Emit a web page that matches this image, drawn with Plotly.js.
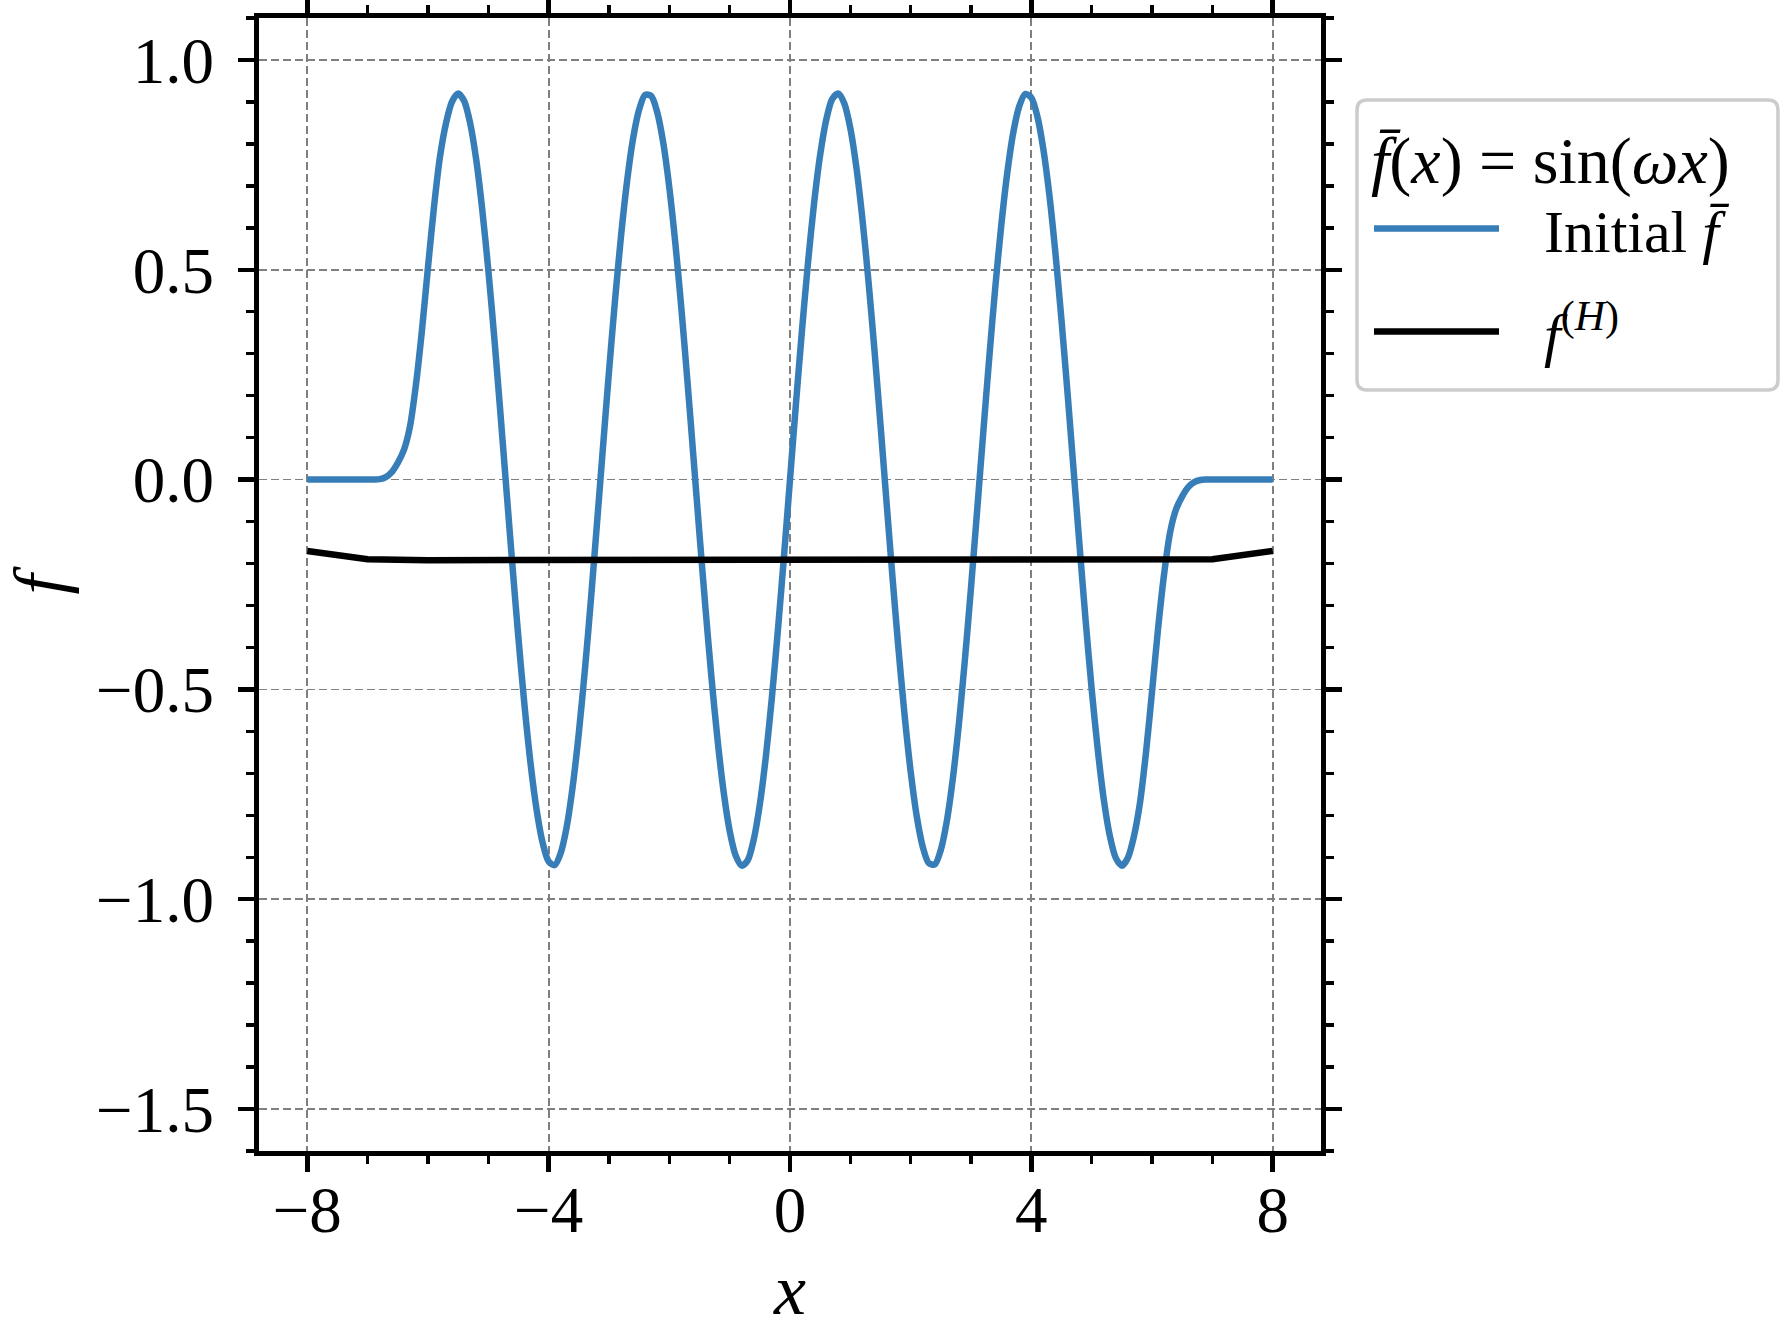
<!DOCTYPE html>
<html>
<head>
<meta charset="utf-8">
<script src="https://cdn.plot.ly/plotly-3.0.1.min.js"></script>
<style>
  html, body { margin: 0; padding: 0; background: #fff; }
  #chart { width: 1781px; height: 1330px; }
</style>
</head>
<body>
<div id="chart"></div>
<script>
// Values
const xInitial = [
  -8.0, -7.9, -7.8, -7.7, -7.6, -7.5, -7.4, -7.3, -7.2, -7.1, -7.0,
  -6.9, -6.8, -6.7, -6.6, -6.5, -6.4, -6.3, -6.2, -6.1, -6.0,
  -5.9, -5.8, -5.7, -5.6, -5.5, -5.4, -5.3, -5.2, -5.1, -5.0,
  -4.9, -4.8, -4.7, -4.6, -4.5, -4.4, -4.3, -4.2, -4.1, -4.0,
  -3.9, -3.8, -3.7, -3.6, -3.5, -3.4, -3.3, -3.2, -3.1, -3.0,
  -2.9, -2.8, -2.7, -2.6, -2.5, -2.4, -2.3, -2.2, -2.1, -2.0,
  -1.9, -1.8, -1.7, -1.6, -1.5, -1.4, -1.3, -1.2, -1.1, -1.0,
  -0.9, -0.8, -0.7, -0.6, -0.5, -0.4, -0.3, -0.2, -0.1,
  0.0, 0.1, 0.2, 0.3, 0.4, 0.5, 0.6, 0.7, 0.8, 0.9,
  1.0, 1.1, 1.2, 1.3, 1.4, 1.5, 1.6, 1.7, 1.8, 1.9,
  2.0, 2.1, 2.2, 2.3, 2.4, 2.5, 2.6, 2.7, 2.8, 2.9,
  3.0, 3.1, 3.2, 3.3, 3.4, 3.5, 3.6, 3.7, 3.8, 3.9,
  4.0, 4.1, 4.2, 4.3, 4.4, 4.5, 4.6, 4.7, 4.8, 4.9,
  5.0, 5.1, 5.2, 5.3, 5.4, 5.5, 5.6, 5.7, 5.8, 5.9,
  6.0, 6.1, 6.2, 6.3, 6.4, 6.5, 6.6, 6.7, 6.8, 6.9,
  7.0, 7.1, 7.2, 7.3, 7.4, 7.5, 7.6, 7.7, 7.8, 7.9, 8.0
];
const fInitial = [
  0, 0, 0, 0, 0, 0, 0, 0, 0, 0, 0,
  0, 0.001, 0.006, 0.018, 0.040, 0.070, 0.125, 0.225, 0.355, 0.505,
  0.650, 0.770, 0.850, 0.901, 0.920, 0.902, 0.849, 0.762, 0.643, 0.500,
  0.337, 0.160, -0.023, -0.205, -0.379, -0.538, -0.676, -0.786, -0.865, -0.910,
  -0.919, -0.890, -0.827, -0.730, -0.604, -0.455, -0.287, -0.107, 0.076, 0.257,
  0.427, 0.581, 0.711, 0.813, 0.882, 0.917, 0.914, 0.875, 0.802, 0.696,
  0.563, 0.407, 0.235, 0.054, -0.130, -0.308, -0.474, -0.621, -0.744, -0.837,
  -0.896, -0.920, -0.907, -0.857, -0.774, -0.660, -0.519, -0.358, -0.183,
  0, 0.183, 0.358, 0.519, 0.660, 0.774, 0.857, 0.907, 0.920, 0.896,
  0.837, 0.744, 0.621, 0.474, 0.308, 0.130, -0.054, -0.235, -0.407, -0.563,
  -0.696, -0.802, -0.875, -0.914, -0.917, -0.882, -0.813, -0.711, -0.581, -0.427,
  -0.257, -0.076, 0.107, 0.287, 0.455, 0.604, 0.730, 0.827, 0.890, 0.919,
  0.910, 0.865, 0.786, 0.676, 0.538, 0.379, 0.205, 0.023, -0.160, -0.337,
  -0.500, -0.643, -0.762, -0.849, -0.902, -0.920, -0.901, -0.850, -0.770, -0.650,
  -0.505, -0.355, -0.225, -0.125, -0.070, -0.040, -0.018, -0.006, -0.001, 0,
  0, 0, 0, 0, 0, 0, 0, 0, 0, 0, 0
];

const xH = [-8, -7, -6, -5, -4, -3, -2, -1, 0, 1, 2, 3, 4, 5, 6, 7, 8];
const fH = [
  -0.170, -0.190, -0.192, -0.192, -0.192, -0.192, -0.192, -0.192, -0.192,
  -0.192, -0.192, -0.192, -0.192, -0.192, -0.192, -0.190, -0.170
];

const xTicks = [-8, -4, 0, 4, 8];
const xTickLabels = ['\u22128', '\u22124', '0', '4', '8'];
const yTicks = [-1.5, -1.0, -0.5, 0.0, 0.5, 1.0];
const yTickLabels = ['\u22121.5', '\u22121.0', '\u22120.5', '0.0', '0.5', '1.0'];

const serif = '"Liberation Serif", "DejaVu Serif", serif';
const blue = '#377eb8';
const gap = '\u2002\u2006'; // space between legend line and label

const traces = [
  {
    x: xInitial,
    y: fInitial,
    type: 'scatter',
    mode: 'lines',
    name: gap + 'Initial <i>f\u0304</i>',
    legendgroup: 'a',
    line: { color: blue, width: 6.5, shape: 'spline', smoothing: 0.8 }
  },
  {
    x: xH,
    y: fH,
    type: 'scatter',
    mode: 'lines',
    name: gap + '<i>f</i><sup>(<i>H</i>)</sup>',
    legendgroup: 'b',
    line: { color: '#000000', width: 6.5 }
  }
];

// shared axis look: box spines, outward ticks on all four sides
const axisCommon = {
  showline: true,
  linewidth: 5,
  linecolor: '#000000',
  mirror: 'allticks',
  ticks: 'outside',
  ticklen: 16,
  tickwidth: 4.5,
  tickcolor: '#000000',
  showgrid: true,
  gridcolor: '#808080',
  gridwidth: 1.8,
  griddash: '8px,4px',
  zeroline: false,
  tickmode: 'array',
  tickfont: { family: serif, size: 65, color: '#000000' }
};

// rounded legend frame, in paper units (plot area spans 1062 x 1133 px)
const fx0 = 1.0339, fx1 = 1.4303, fy0 = 0.6717, fy1 = 0.9276;
const rx = 0.0094, ry = 0.0088;
const framePath =
  `M${fx0 + rx},${fy1} L${fx1 - rx},${fy1} Q${fx1},${fy1} ${fx1},${fy1 - ry} ` +
  `L${fx1},${fy0 + ry} Q${fx1},${fy0} ${fx1 - rx},${fy0} ` +
  `L${fx0 + rx},${fy0} Q${fx0},${fy0} ${fx0},${fy0 + ry} ` +
  `L${fx0},${fy1 - ry} Q${fx0},${fy1} ${fx0 + rx},${fy1} Z`;

const layout = {
  width: 1781,
  height: 1330,
  paper_bgcolor: '#ffffff',
  plot_bgcolor: '#ffffff',
  font: { family: serif, color: '#000000' },
  margin: { l: 259, r: 460, t: 18, b: 179 },
  showlegend: true,
  xaxis: Object.assign({}, axisCommon, {
    range: [-8.8, 8.8],
    tickvals: xTicks,
    ticktext: xTickLabels,
    ticklabelstandoff: -18,
    minor: { dtick: 1, ticks: 'outside', ticklen: 8, tickwidth: 3.5, tickcolor: '#000000', showgrid: false },
    title: { text: '<i>x</i>', font: { family: serif, size: 72 }, standoff: 20 }
  }),
  yaxis: Object.assign({}, axisCommon, {
    range: [-1.6, 1.1],
    tickvals: yTicks,
    ticktext: yTickLabels,
    ticklabelstandoff: 11,
    minor: { dtick: 0.1, ticks: 'outside', ticklen: 8, tickwidth: 3.5, tickcolor: '#000000', showgrid: false },
    title: { text: '<i>f</i>', font: { family: serif, size: 72 }, standoff: 20 }
  }),
  shapes: [
    {
      type: 'path',
      xref: 'paper',
      yref: 'paper',
      path: framePath,
      fillcolor: '#ffffff',
      line: { color: '#cccccc', width: 3.5 },
      layer: 'above'
    }
  ],
  legend: {
    x: 1.0452,
    y: 0.93,
    xanchor: 'left',
    yanchor: 'top',
    bgcolor: 'rgba(0,0,0,0)',
    borderwidth: 0,
    traceorder: 'grouped',
    tracegroupgap: 22,
    itemwidth: 125,
    font: { family: serif, size: 60, color: '#000000' },
    title: {
      text: '<i>f\u0304</i>(<i>x</i>) = sin(<i>\u03c9x</i>)',
      side: 'top',
      font: { family: serif, size: 66, color: '#000000' }
    }
  }
};

const config = { displayModeBar: false, staticPlot: true };

Plotly.newPlot('chart', traces, layout, config);
</script>
</body>
</html>
